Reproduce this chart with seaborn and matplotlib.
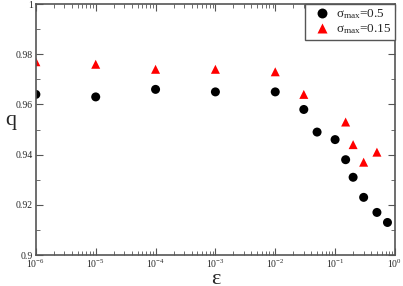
import math
import matplotlib
matplotlib.use("Agg")
import matplotlib.pyplot as plt
import matplotlib.ticker as mticker
import pandas as pd
import seaborn as sns

eps_05 = [1e-6, 1e-5, 1e-4, 1e-3, 1e-2, 0.03, 0.05, 0.1, 0.15, 0.2, 0.3, 0.5, 0.75]
q_05 = [0.964, 0.963, 0.966, 0.965, 0.965, 0.958, 0.949, 0.946, 0.938, 0.931, 0.923, 0.917, 0.913]

eps_015 = [1e-6, 1e-5, 1e-4, 1e-3, 1e-2, 0.03, 0.15, 0.2, 0.3, 0.5]
q_015 = [0.977, 0.976, 0.974, 0.974, 0.973, 0.964, 0.953, 0.944, 0.937, 0.941]

labels = [r"$\mathregular{\sigma_{max}}$=0.5", r"$\mathregular{\sigma_{max}}$=0.15"]

df = pd.concat([
    pd.DataFrame({"eps": eps_05, "q": q_05, "series": labels[0]}),
    pd.DataFrame({"eps": eps_015, "q": q_015, "series": labels[1]}),
])

sns.set_style("ticks")
plt.rcParams["font.family"] = ["Liberation Serif", "DejaVu Serif"]
plt.rcParams["mathtext.fontset"] = "custom"
plt.rcParams["mathtext.rm"] = "Liberation Serif"

fig = plt.figure(figsize=(4.03, 2.86), dpi=100)
ax = fig.add_axes([0.089, 0.108, 0.891, 0.878])

sns.scatterplot(data=df, x="eps", y="q", hue="series", style="series",
                palette={labels[0]: "black", labels[1]: "red"},
                markers={labels[0]: "o", labels[1]: "^"},
                s=42, edgecolor="none", ax=ax)

ax.set_xscale("log")
ax.set_xlim(1e-6, 1)
ax.set_ylim(0.9, 1.0)
ax.xaxis.set_major_locator(mticker.LogLocator(base=10, numticks=10))
ax.xaxis.set_minor_locator(mticker.LogLocator(base=10, subs=range(2, 10), numticks=20))
ax.xaxis.set_minor_formatter(mticker.NullFormatter())
ax.xaxis.set_major_formatter(mticker.FuncFormatter(
    lambda v, p: r"$\mathregular{10^{%d}}$" % round(math.log10(v))))
ax.yaxis.set_major_locator(mticker.MultipleLocator(0.02))
ax.yaxis.set_minor_locator(mticker.MultipleLocator(0.01))
ax.yaxis.set_major_formatter(mticker.FuncFormatter(lambda v, p: f"{v:g}"))

ax.tick_params(which="both", direction="in", top=True, right=True,
               color="#555555", labelsize=7, pad=2)
ax.tick_params(which="major", length=5)
ax.tick_params(which="minor", length=3)
for sp in ax.spines.values():
    sp.set_color("#555555")
    sp.set_linewidth(1.2)

ax.set_xlabel("ε", fontsize=16, labelpad=0)
ax.set_ylabel("q", fontsize=16, rotation=0, labelpad=4)

leg = ax.legend(loc="upper right", fontsize=9.5, handletextpad=0.1,
                borderpad=0.25, labelspacing=0.1, fancybox=False,
                framealpha=1, borderaxespad=0.0, markerscale=1.1)
leg.get_frame().set_edgecolor("#555555")
leg.get_frame().set_linewidth(1.0)

fig.savefig("out.png", dpi=100)
